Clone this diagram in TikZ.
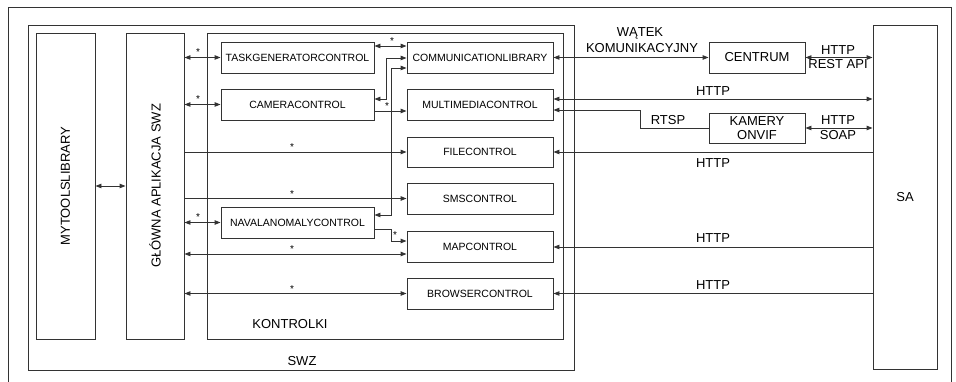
\documentclass[tikz,border=0pt]{standalone}
\usepackage{fontspec}
\setmainfont{Liberation Sans}
\usetikzlibrary{arrows.meta}
\begin{document}
\begin{tikzpicture}[x=1pt,y=-1pt,
  ln/.style={draw=black!80,line width=0.9pt},
  arr/.style={ln,-{Triangle[length=6pt,width=4.5pt]}},
  darr/.style={ln,{Triangle[length=6pt,width=4.5pt]}-{Triangle[length=6pt,width=4.5pt]}},
  box/.style={ln,rectangle,inner sep=0pt,align=center},
  small/.style={font=\fontsize{10.5}{12}\selectfont},
  big/.style={font=\fontsize{13}{15}\selectfont},
  lbl/.style={big,inner sep=0pt},
  star/.style={font=\fontsize{10}{10}\selectfont,inner sep=0pt}]
\useasboundingbox (0,0) rectangle (956,382);
\fill[white] (0,0) rectangle (956,382);
% outer frame (open at bottom)
\draw[ln] (8,395) -- (8,7) -- (951,7) -- (951,395);
% containers
\node[box,minimum width=546pt,minimum height=345pt] (swz) at (301,197.5) {};
\node[lbl] (swzl) at (302,361) {SWZ};
\node[box,big,rotate=90,minimum width=306pt,minimum height=59pt] (my) at (65.5,186) {MYTOOLSLIBRARY};
\node[box,big,rotate=90,minimum width=306pt,minimum height=58pt] (gl) at (155,186) {GŁÓWNA APLIKACJA SWZ};
\node[box,minimum width=356pt,minimum height=306pt] (kon) at (385,186) {};
\node[lbl] (konl) at (290,324) {KONTROLKI};
% left column controls
\node[box,small,minimum width=153pt,minimum height=31pt] (task) at (297.5,57.5) {TASKGENERATORCONTROL};
\node[box,small,minimum width=153pt,minimum height=31pt] (cam) at (297.5,104.5) {CAMERACONTROL};
\node[box,small,minimum width=153pt,minimum height=31pt] (naval) at (297.5,222.5) {NAVALANOMALYCONTROL};
% right column controls
\node[box,small,minimum width=146pt,minimum height=31pt] (comm) at (480,57.5) {COMMUNICATIONLIBRARY};
\node[box,small,minimum width=146pt,minimum height=31pt] (multi) at (480,104.5) {MULTIMEDIACONTROL};
\node[box,small,minimum width=146pt,minimum height=30pt] (file) at (480,152) {FILECONTROL};
\node[box,small,minimum width=146pt,minimum height=31pt] (sms) at (480,198.5) {SMSCONTROL};
\node[box,small,minimum width=146pt,minimum height=31pt] (map) at (480,246.5) {MAPCONTROL};
\node[box,small,minimum width=146pt,minimum height=31pt] (browser) at (480,293.5) {BROWSERCONTROL};
% external
\node[box,big,minimum width=96pt,minimum height=31pt] (centrum) at (757,57.5) {CENTRUM};
\node[box,big,minimum width=96pt,minimum height=30pt,font=\fontsize{13}{14}\selectfont] (kamery) at (757,128) {KAMERY\\ONVIF};
\node[box,big,minimum width=64pt,minimum height=344pt] (sa) at (905,197) {SA};
% left connectors
\draw[darr] (my.south) -- (gl.north);
\draw[darr] (gl.south |- task.west) -- (task.west);
\node[star] at (198,52) {*};
\draw[darr] (gl.south |- cam.west) -- (cam.west);
\node[star] at (198,99) {*};
\draw[arr] (gl.south |- file.west) -- (file.west);
\node[star] at (292,147) {*};
\draw[arr] (gl.south |- sms.west) -- (sms.west);
\node[star] at (292,194) {*};
\draw[darr] (gl.south |- naval.west) -- (naval.west);
\node[star] at (198,217) {*};
\draw[darr] (gl.south |- 0,254) -- (map.west |- 0,254);
\node[star] at (292,249) {*};
\draw[darr] (gl.south |- browser.west) -- (browser.west);
\node[star] at (292,289) {*};
% internal connectors
\draw[darr] (task.east |- 0,46) -- (comm.west |- 0,46);
\node[star] at (392,41) {*};
\draw[darr] (cam.east |- 0,99) -| (386,58) -- (comm.west |- 0,58);
\draw[darr] (naval.east |- 0,215) -| (391,68) -- (comm.west |- 0,68);
\draw[arr] (cam.east |- 0,111) -- (multi.west |- 0,111);
\node[star] at (387,106) {*};
\draw[arr] (naval.east |- 0,229) -| (391,241) -- (map.west |- 0,241);
\node[star] at (395,235) {*};
% right connectors
\draw[darr] (comm.east) -- (centrum.west);
\node[lbl] at (640,33) {WĄTEK};
\node[lbl] at (642,48) {KOMUNIKACYJNY};
\draw[darr] (centrum.east) -- (sa.west |- centrum.east);
\node[lbl] at (838,50) {HTTP};
\node[lbl] at (838,64) {REST API};
\draw[darr] (multi.east |- 0,99) -- (sa.west |- 0,99);
\node[lbl] at (713,91) {HTTP};
\draw[arr] (kamery.west) -| (640,110) -- (multi.east |- 0,110);
\node[lbl] at (668,120) {RTSP};
\draw[darr] (kamery.east) -- (sa.west |- kamery.east);
\node[lbl] at (838,120) {HTTP};
\node[lbl] at (838,135) {SOAP};
\draw[arr] (sa.west |- file.east) -- (file.east);
\node[lbl] at (713,163) {HTTP};
\draw[arr] (sa.west |- 0,247) -- (map.east |- 0,247);
\node[lbl] at (713,238) {HTTP};
\draw[arr] (sa.west |- browser.east) -- (browser.east);
\node[lbl] at (713,285) {HTTP};
\end{tikzpicture}
\end{document}
